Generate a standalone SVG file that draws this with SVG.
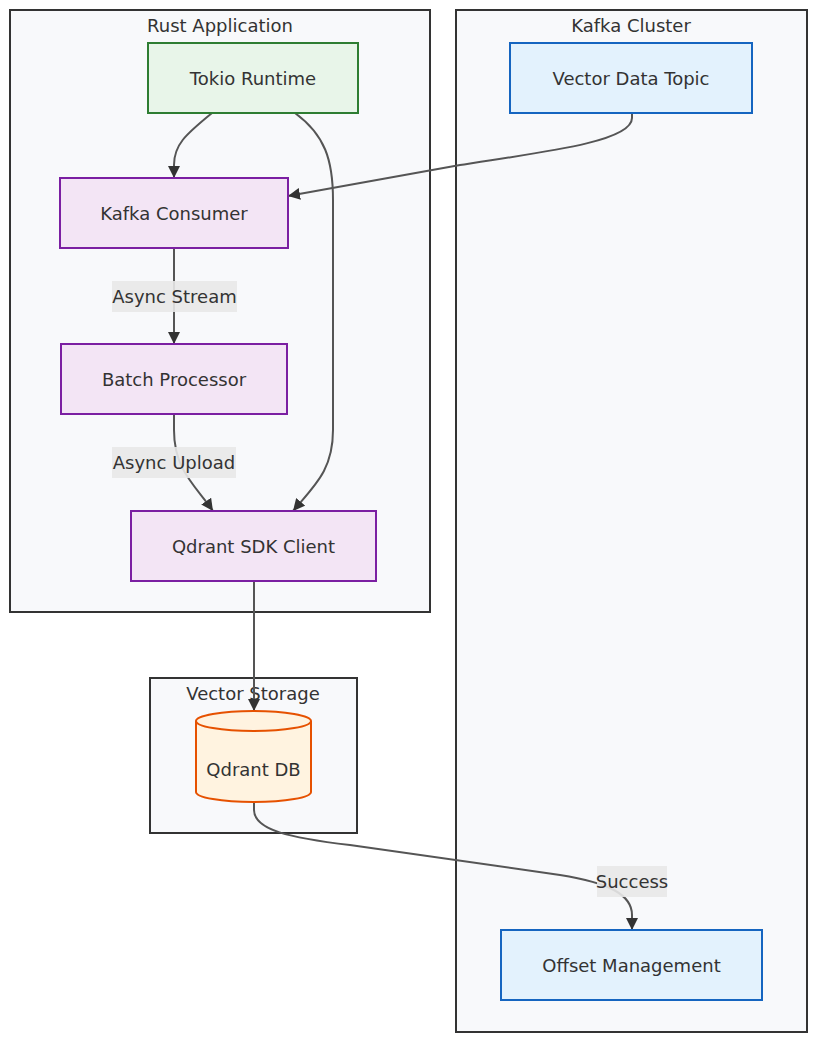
<svg xmlns="http://www.w3.org/2000/svg" width="828" height="1057" viewBox="0 0 828 1057">
<defs>
<style>
text{font-family:"DejaVu Sans","Liberation Sans",sans-serif;font-size:18px;fill:#333;text-anchor:middle;dominant-baseline:central}
.cluster{fill:#f8f9fb;stroke:#333;stroke-width:2}
.green{fill:#e8f5e9;stroke:#2e7d32;stroke-width:2}
.purple{fill:#f3e5f5;stroke:#7b1fa2;stroke-width:2}
.blue{fill:#e3f2fd;stroke:#1565c0;stroke-width:2}
.orange{fill:#fff3e0;stroke:#e65100;stroke-width:2}
.edge{fill:none;stroke:#555;stroke-width:2}
.lbl{fill:#e8e8e8;opacity:0.9}
</style>
<marker id="arrow" viewBox="0 0 10 10" refX="10" refY="5" markerWidth="12" markerHeight="12" markerUnits="userSpaceOnUse" orient="auto">
<path d="M0,0 L10,5 L0,10 z" fill="#333"/>
</marker>
</defs>
<rect width="828" height="1057" fill="#ffffff"/>
<g id="clusters">
<g id="cluster-rust"><rect class="cluster" x="10" y="10" width="420" height="602"/><text x="220" y="25">Rust Application</text></g>
<g id="cluster-kafka"><rect class="cluster" x="456" y="10" width="351" height="1022"/><text x="631" y="25">Kafka Cluster</text></g>
<g id="cluster-storage"><rect class="cluster" x="150" y="678" width="207" height="155"/><text x="253" y="693">Vector Storage</text></g>
</g>
<g id="edges">
<path class="edge" d="M212,113 C185,135 174,145 174,165 L174,178" marker-end="url(#arrow)"/>
<path class="edge" d="M295,113 C325,135 333,160 333,200 L333,430 C333,470 315,485 293,511" marker-end="url(#arrow)"/>
<path class="edge" d="M632,113 L632,118 C632,140 560,150 460,165 L288,196" marker-end="url(#arrow)"/>
<path class="edge" d="M174,248 L174,344" marker-end="url(#arrow)"/>
<path class="edge" d="M174,414 L174,430 C174,470 195,485 213,511" marker-end="url(#arrow)"/>
<path class="edge" d="M254,581 L254,711" marker-end="url(#arrow)"/>
<path class="edge" d="M254,803 L254,810 C254,830 290,838 350,845 L560,875 C610,883 632,895 632,915 L632,930" marker-end="url(#arrow)"/>
</g>
<g id="edge-labels">
<g id="label-async-stream"><rect class="lbl" x="112" y="281" width="125" height="31"/><text x="174.5" y="296">Async Stream</text></g>
<g id="label-async-upload"><rect class="lbl" x="112" y="447" width="124" height="31"/><text x="174" y="462">Async Upload</text></g>
<g id="label-success"><rect class="lbl" x="597" y="866" width="70" height="31"/><text x="632" y="881">Success</text></g>
</g>
<g id="node-tokio"><rect class="green" x="148" y="43" width="210" height="70"/><text x="253" y="78">Tokio Runtime</text></g>
<g id="node-consumer"><rect class="purple" x="60" y="178" width="228" height="70"/><text x="174" y="213">Kafka Consumer</text></g>
<g id="node-batch"><rect class="purple" x="61" y="344" width="226" height="70"/><text x="174" y="379">Batch Processor</text></g>
<g id="node-sdk"><rect class="purple" x="131" y="511" width="245" height="70"/><text x="253.5" y="546">Qdrant SDK Client</text></g>
<g id="node-topic"><rect class="blue" x="510" y="43" width="242" height="70"/><text x="631" y="78">Vector Data Topic</text></g>
<g id="node-offset"><rect class="blue" x="501" y="930" width="261" height="70"/><text x="631.5" y="965">Offset Management</text></g>
<g id="node-db">
<path class="orange" d="M196,721 A57.5,10 0 0 1 311,721 L311,792 A57.5,10 0 0 1 196,792 Z"/>
<path class="orange" d="M196,721 A57.5,10 0 0 0 311,721" fill="none"/>
<text x="253.5" y="769">Qdrant DB</text>
</g>
</svg>
